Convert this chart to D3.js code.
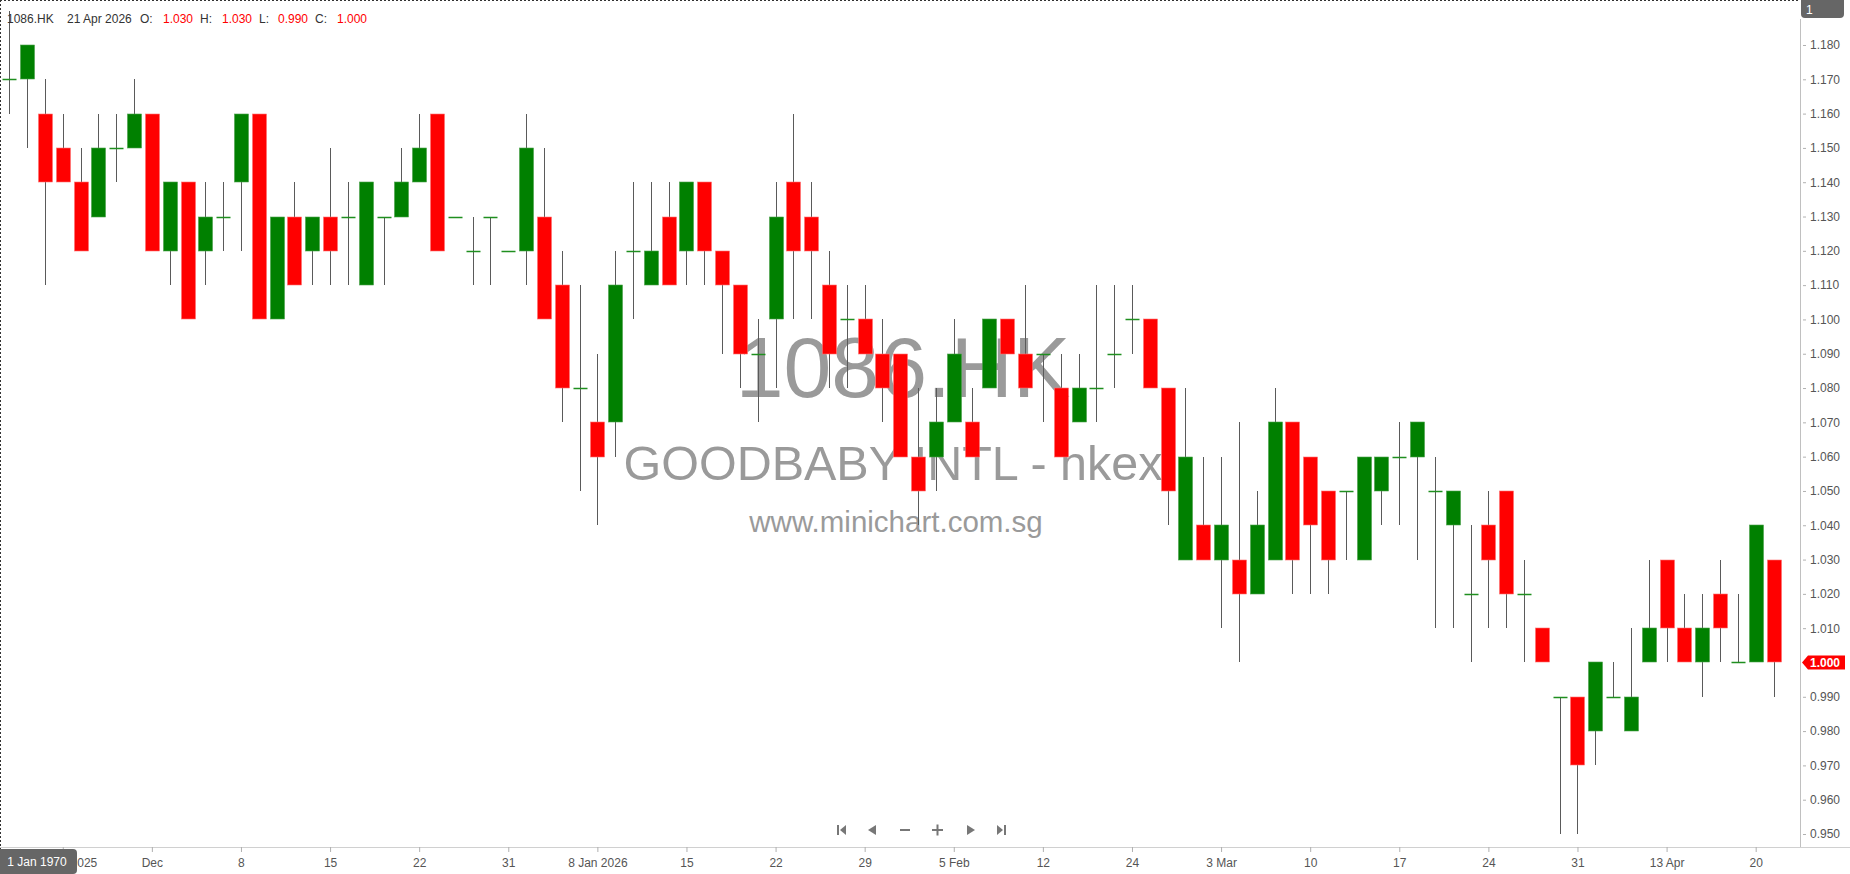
<!DOCTYPE html>
<html><head><meta charset="utf-8">
<script src="https://cdn.jsdelivr.net/npm/d3@7"></script>
<style>html,body{margin:0;padding:0;background:#fff;overflow:hidden}svg{display:block}</style>
</head><body>
<svg id="chart" width="1850" height="874"></svg>
<script>
// ---- data ----
const dates = ["2025-11-19","2025-11-20","2025-11-21","2025-11-24","2025-11-25","2025-11-26","2025-11-27","2025-11-28","2025-12-01","2025-12-02",
"2025-12-03","2025-12-04","2025-12-05","2025-12-08","2025-12-09","2025-12-10","2025-12-11","2025-12-12","2025-12-15","2025-12-16",
"2025-12-17","2025-12-18","2025-12-19","2025-12-22","2025-12-23","2025-12-24","2025-12-29","2025-12-30","2025-12-31","2026-01-02",
"2026-01-05","2026-01-06","2026-01-07","2026-01-08","2026-01-09","2026-01-12","2026-01-13","2026-01-14","2026-01-15","2026-01-16",
"2026-01-19","2026-01-20","2026-01-21","2026-01-22","2026-01-23","2026-01-26","2026-01-27","2026-01-28","2026-01-29","2026-01-30",
"2026-02-02","2026-02-03","2026-02-04","2026-02-05","2026-02-06","2026-02-09","2026-02-10","2026-02-11","2026-02-12","2026-02-13",
"2026-02-16","2026-02-20","2026-02-23","2026-02-24","2026-02-25","2026-02-26","2026-02-27","2026-03-02","2026-03-03","2026-03-04",
"2026-03-05","2026-03-06","2026-03-09","2026-03-10","2026-03-11","2026-03-12","2026-03-13","2026-03-16","2026-03-17","2026-03-18",
"2026-03-19","2026-03-20","2026-03-23","2026-03-24","2026-03-25","2026-03-26","2026-03-27","2026-03-30","2026-03-31","2026-04-01",
"2026-04-02","2026-04-09","2026-04-10","2026-04-13","2026-04-14","2026-04-15","2026-04-16","2026-04-17","2026-04-20","2026-04-21"];

const open = [1.17,1.17,1.16,1.15,1.14,1.13,1.15,1.15,1.16,1.12, 1.14,1.12,1.13,1.14,1.16,1.10,1.13,1.12,1.13,1.13,
1.11,1.13,1.13,1.14,1.16,1.13,1.12,1.13,1.12,1.12, 1.13,1.11,1.08,1.07,1.07,1.12,1.11,1.13,1.12,1.14,
1.12,1.11,1.09,1.10,1.14,1.13,1.11,1.10,1.10,1.09, 1.09,1.06,1.06,1.07,1.07,1.08,1.10,1.09,1.09,1.08,
1.07,1.08,1.09,1.10,1.10,1.08,1.03,1.04,1.03,1.03, 1.02,1.03,1.07,1.06,1.05,1.05,1.03,1.05,1.06,1.06,
1.05,1.04,1.02,1.04,1.05,1.02,1.01,0.99,0.99,0.98, 0.99,0.98,1.00,1.03,1.01,1.00,1.02,1.00,1.00,1.03];

const high = [1.19,1.18,1.17,1.16,1.15,1.16,1.16,1.17,1.16,1.14, 1.14,1.14,1.14,1.16,1.16,1.13,1.14,1.13,1.15,1.14,
1.14,1.13,1.15,1.16,1.16,1.13,1.13,1.13,1.12,1.16, 1.15,1.12,1.11,1.09,1.12,1.14,1.14,1.14,1.14,1.14,
1.12,1.11,1.10,1.14,1.16,1.14,1.12,1.11,1.11,1.10, 1.09,1.08,1.08,1.10,1.08,1.10,1.10,1.11,1.09,1.09,
1.09,1.11,1.11,1.11,1.10,1.08,1.08,1.06,1.06,1.07, 1.05,1.08,1.07,1.06,1.05,1.05,1.06,1.06,1.07,1.07,
1.06,1.05,1.04,1.05,1.05,1.03,1.01,0.99,0.99,1.00, 1.00,1.01,1.03,1.03,1.02,1.02,1.03,1.02,1.04,1.03];

const low = [1.16,1.15,1.11,1.14,1.12,1.13,1.14,1.15,1.12,1.11, 1.10,1.11,1.12,1.12,1.10,1.10,1.11,1.11,1.11,1.11,
1.11,1.11,1.13,1.14,1.12,1.13,1.11,1.11,1.12,1.11, 1.10,1.07,1.05,1.04,1.06,1.10,1.11,1.11,1.11,1.11,
1.09,1.08,1.07,1.08,1.10,1.10,1.08,1.08,1.09,1.07, 1.06,1.04,1.05,1.07,1.06,1.08,1.09,1.08,1.07,1.06,
1.07,1.07,1.08,1.09,1.08,1.04,1.03,1.03,1.01,1.00, 1.02,1.03,1.02,1.02,1.02,1.03,1.03,1.04,1.04,1.03,
1.01,1.01,1.00,1.01,1.01,1.00,1.00,0.95,0.95,0.97, 0.99,0.98,1.00,1.00,1.00,0.99,1.00,1.00,1.00,0.99];

const close = [1.17,1.18,1.14,1.14,1.12,1.15,1.15,1.16,1.12,1.14, 1.10,1.13,1.13,1.16,1.10,1.13,1.11,1.13,1.12,1.13,
1.14,1.13,1.14,1.15,1.12,1.13,1.12,1.13,1.12,1.15, 1.10,1.08,1.08,1.06,1.11,1.12,1.12,1.11,1.14,1.12,
1.11,1.09,1.09,1.13,1.12,1.12,1.09,1.10,1.09,1.08, 1.06,1.05,1.07,1.09,1.06,1.10,1.09,1.08,1.09,1.06,
1.08,1.08,1.09,1.10,1.08,1.05,1.06,1.03,1.04,1.02, 1.04,1.07,1.03,1.04,1.03,1.05,1.06,1.06,1.06,1.07,
1.05,1.05,1.02,1.03,1.02,1.02,1.00,0.99,0.97,1.00, 0.99,0.99,1.01,1.01,1.00,1.01,1.01,1.00,1.04,1.00];

const tickDates = ["2025-11-24","2025-12-01","2025-12-08","2025-12-15","2025-12-22","2025-12-31","2026-01-08","2026-01-15","2026-01-22","2026-01-29",
"2026-02-05","2026-02-12","2026-02-24","2026-03-03","2026-03-10","2026-03-17","2026-03-24","2026-03-31","2026-04-13","2026-04-20"];
const tickLabels = ["24 Nov 2025","Dec","8","15","22","31","8 Jan 2026","15","22","29","5 Feb","12","24","3 Mar","10","17","24","31","13 Apr","20"];
const priceTicks = [1.18,1.17,1.16,1.15,1.14,1.13,1.12,1.11,1.10,1.09,1.08,1.07,1.06,1.05,1.04,1.03,1.02,1.01,1.00,0.99,0.98,0.97,0.96,0.95];

const symbolName = "1086.HK";
const companyName = "GOODBABY INTL - hkex";
const siteName = "www.minichart.com.sg";
const lastDateLabel = "21 Apr 2026";

// ---- chart ----
const svg = d3.select("#chart");
const W = 1850, H = 874;
const plotRight = 1800, plotBottom = 847;
const FONT = "'Liberation Sans', Arial, sans-serif";

const x = d3.scalePoint().domain(dates).range([9.3, 1773.5]);
const y = d3.scaleLinear().domain([0.95, 1.18]).range([834, 45]);

const data = dates.map((d, i) => ({date: d, o: open[i], h: high[i], l: low[i], c: close[i]}));

// watermark
const wm = svg.append("g").attr("fill", "#9a9a9a").attr("font-family", FONT).attr("text-anchor", "middle");
wm.append("text").attr("x", 903).attr("y", 397).attr("font-size", 86).text(symbolName);
wm.append("text").attr("x", 893).attr("y", 480).attr("font-size", 48.5).text(companyName);
wm.append("text").attr("x", 896).attr("y", 532).attr("font-size", 29.5).text(siteName);

// candles
const cg = svg.append("g");
const cand = cg.selectAll("g.c").data(data).join("g").attr("class", "c");
cand.append("line")
  .attr("x1", d => Math.round(x(d.date)) + 0.5).attr("x2", d => Math.round(x(d.date)) + 0.5)
  .attr("y1", d => Math.round(y(d.h))).attr("y2", d => Math.round(y(d.l)))
  .attr("stroke", "#5a5a5a").attr("stroke-width", 1);
cand.filter(d => d.o !== d.c).append("rect")
  .attr("x", d => Math.round(x(d.date)) - 6.5)
  .attr("width", 14)
  .attr("y", d => Math.round(y(Math.max(d.o, d.c))))
  .attr("height", d => Math.round(y(Math.min(d.o, d.c))) - Math.round(y(Math.max(d.o, d.c))))
  .attr("fill", d => d.c > d.o ? "#008000" : "#ff0000")
  .attr("stroke", d => d.c > d.o ? "#4aa04a" : "#ff7070")
  .attr("stroke-width", 0.6);
cand.filter(d => d.o === d.c).append("line")
  .attr("x1", d => Math.round(x(d.date)) - 6.5).attr("x2", d => Math.round(x(d.date)) + 7.5)
  .attr("y1", d => Math.round(y(d.o)) + 0.5).attr("y2", d => Math.round(y(d.o)) + 0.5)
  .attr("stroke", "#1f8f1f").attr("stroke-width", 1.5);

// axes lines
svg.append("line").attr("x1", plotRight + 0.5).attr("x2", plotRight + 0.5).attr("y1", 19).attr("y2", plotBottom)
  .attr("stroke", "#c0c0c0");
svg.append("line").attr("x1", 0).attr("x2", W).attr("y1", plotBottom + 0.5).attr("y2", plotBottom + 0.5)
  .attr("stroke", "#d0d0d0");

// y axis
const yAxis = d3.axisRight(y).tickValues(priceTicks).tickSize(3).tickPadding(4).tickFormat(d3.format(".3f"));
const yg = svg.append("g").attr("transform", `translate(${plotRight + 3},0)`).call(yAxis);
yg.select(".domain").remove();
yg.selectAll(".tick line").attr("stroke", "#b0b0b0");
yg.selectAll(".tick text").attr("fill", "#555").attr("font-size", 12).attr("font-family", FONT);

// x axis
const xAxis = d3.axisBottom(x).tickValues(tickDates).tickSize(5).tickPadding(6)
  .tickFormat(d => tickLabels[tickDates.indexOf(d)]);
const xg = svg.append("g").attr("transform", `translate(0,${plotBottom})`).call(xAxis);
xg.select(".domain").remove();
xg.selectAll(".tick line").attr("stroke", "#b0b0b0");
xg.selectAll(".tick text").attr("fill", "#555").attr("font-size", 12).attr("font-family", FONT);

// dashed border
svg.append("line").attr("x1", 0).attr("x2", plotRight).attr("y1", 0.5).attr("y2", 0.5)
  .attr("stroke", "#333").attr("stroke-dasharray", "2,2");
svg.append("line").attr("x1", 0.5).attr("x2", 0.5).attr("y1", 0).attr("y2", H)
  .attr("stroke", "#333").attr("stroke-dasharray", "2,2");

// header
const last = data[data.length - 1];
const f3 = d3.format(".3f");
const parts = [
  [symbolName, "#333", 7], [lastDateLabel, "#333", 67],
  ["O:", "#333", 140], [f3(last.o), "#f00", 163],
  ["H:", "#333", 200], [f3(last.h), "#f00", 222],
  ["L:", "#333", 259], [f3(last.l), "#f00", 278],
  ["C:", "#333", 315], [f3(last.c), "#f00", 337]];
const hdr = svg.append("g").attr("font-size", 12).attr("font-family", FONT);
parts.forEach(p => hdr.append("text").attr("x", p[2]).attr("y", 22.5).attr("fill", p[1]).text(p[0]));

// top-right badge
svg.append("rect").attr("x", 1801).attr("y", -4).attr("width", 43).attr("height", 22).attr("rx", 4).attr("fill", "#666");
svg.append("text").attr("x", 1806).attr("y", 14).attr("fill", "#fff").attr("font-size", 12).attr("font-family", FONT).text("1");

// bottom-left date badge
svg.append("rect").attr("x", -4).attr("y", 849).attr("width", 81).attr("height", 25).attr("rx", 4).attr("fill", "#666");
svg.append("text").attr("x", 37).attr("y", 866).attr("fill", "#fff").attr("font-size", 12).attr("text-anchor", "middle")
  .attr("font-family", FONT).text("1 Jan 1970");

// last price flag
const ly = Math.round(y(last.c)) + 0.5;
svg.append("path").attr("d", `M1802,${ly} L1808,${ly - 7} L1845,${ly - 7} L1845,${ly + 7} L1808,${ly + 7} Z`).attr("fill", "#ff0000");
svg.append("text").attr("x", 1810).attr("y", ly + 4.5).attr("fill", "#fff").attr("font-size", 12).attr("font-weight", "bold")
  .attr("font-family", FONT).text(f3(last.c));

// navigation buttons
const nav = svg.append("g").attr("fill", "#777");
const ny = 830;
nav.append("rect").attr("x", 837).attr("y", ny - 5).attr("width", 2).attr("height", 10);
nav.append("path").attr("d", `M840,${ny} L846,${ny - 5} L846,${ny + 5} Z`);
nav.append("path").attr("d", `M868,${ny} L876,${ny - 5} L876,${ny + 5} Z`);
nav.append("rect").attr("x", 900).attr("y", ny - 1).attr("width", 10).attr("height", 2);
nav.append("rect").attr("x", 932).attr("y", ny - 1).attr("width", 11).attr("height", 2);
nav.append("rect").attr("x", 936.5).attr("y", ny - 5.5).attr("width", 2).attr("height", 11);
nav.append("path").attr("d", `M967,${ny - 5} L975,${ny} L967,${ny + 5} Z`);
nav.append("path").attr("d", `M997,${ny - 5} L1003,${ny} L997,${ny + 5} Z`);
nav.append("rect").attr("x", 1004).attr("y", ny - 5).attr("width", 2).attr("height", 10);
</script>
</body></html>
